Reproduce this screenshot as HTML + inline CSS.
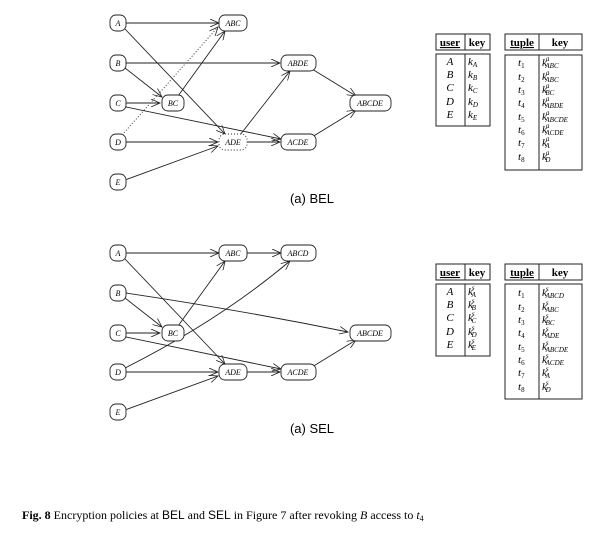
<!DOCTYPE html>
<html><head><meta charset="utf-8"><style>
body{margin:0;background:#fff;width:602px;height:536px;overflow:hidden}
svg{display:block}
text{font-family:"Liberation Serif",serif;}
.n{font-style:italic;font-size:8px;text-anchor:middle}
.t{font-size:11px;text-anchor:middle}
.s{font-style:italic;font-size:6px}
</style></head><body>
<svg width="602" height="536" viewBox="0 0 602 536" xmlns="http://www.w3.org/2000/svg">
<defs>
<marker id="a" markerWidth="10" markerHeight="8" refX="9" refY="4" orient="auto" markerUnits="userSpaceOnUse">
<path d="M0,0 L9,4 L0,8" fill="none" stroke="#222" stroke-width="0.8"/></marker>
</defs>
<g stroke="#222" stroke-width="0.9" fill="none">
<!-- TOP edges -->
<line x1="126" y1="23" x2="219" y2="23" marker-end="url(#a)"/>
<line x1="125" y1="29" x2="225" y2="134" marker-end="url(#a)"/>
<line x1="126" y1="63" x2="280" y2="63" marker-end="url(#a)"/>
<line x1="125" y1="68" x2="162" y2="97" marker-end="url(#a)"/>
<line x1="126" y1="103" x2="160" y2="103" marker-end="url(#a)"/>
<line x1="126" y1="107" x2="281" y2="139" marker-end="url(#a)"/>
<line x1="126" y1="142" x2="218" y2="142" marker-end="url(#a)"/>
<line x1="125" y1="180" x2="218" y2="146" marker-end="url(#a)"/>
<line x1="178" y1="96" x2="225" y2="31" marker-end="url(#a)"/>
<line x1="122" y1="135" x2="218" y2="27" stroke-dasharray="1,2" marker-end="url(#a)"/>
<line x1="245" y1="142" x2="280" y2="142" marker-end="url(#a)"/>
<line x1="240" y1="135" x2="290" y2="71" marker-end="url(#a)"/>
<line x1="312" y1="69" x2="356" y2="96" marker-end="url(#a)"/>
<line x1="312" y1="137" x2="356" y2="110" marker-end="url(#a)"/>
<!-- BOTTOM edges -->
<line x1="126" y1="253" x2="219" y2="253" marker-end="url(#a)"/>
<line x1="125" y1="259" x2="225" y2="364" marker-end="url(#a)"/>
<path d="M126,293 Q240,310 348,332" marker-end="url(#a)"/>
<line x1="125" y1="298" x2="162" y2="327" marker-end="url(#a)"/>
<line x1="126" y1="333" x2="160" y2="333" marker-end="url(#a)"/>
<line x1="126" y1="337" x2="281" y2="369" marker-end="url(#a)"/>
<line x1="126" y1="372" x2="218" y2="372" marker-end="url(#a)"/>
<path d="M125,368 Q220,320 290,261" marker-end="url(#a)"/>
<line x1="125" y1="410" x2="218" y2="376" marker-end="url(#a)"/>
<line x1="178" y1="326" x2="225" y2="261" marker-end="url(#a)"/>
<line x1="247" y1="253" x2="281" y2="253" marker-end="url(#a)"/>
<line x1="247" y1="372" x2="280" y2="372" marker-end="url(#a)"/>
<line x1="312" y1="367" x2="356" y2="340" marker-end="url(#a)"/>
</g>
<g stroke="#222" stroke-width="0.9" fill="#fff">
<!-- top nodes -->
<rect x="110" y="15" width="16" height="16" rx="6"/>
<rect x="110" y="55" width="16" height="16" rx="6"/>
<rect x="110" y="95" width="16" height="16" rx="6"/>
<rect x="110" y="134" width="16" height="16" rx="6"/>
<rect x="110" y="174" width="16" height="16" rx="6"/>
<rect x="162" y="95" width="22" height="16" rx="6"/>
<rect x="219" y="15" width="28" height="16" rx="6"/>
<rect x="219" y="134" width="28" height="16" rx="6" stroke-dasharray="1,2"/>
<rect x="281" y="55" width="35" height="16" rx="6"/>
<rect x="281" y="134" width="35" height="16" rx="6"/>
<rect x="350" y="95" width="41" height="16" rx="6"/>
<!-- bottom nodes -->
<rect x="110" y="245" width="16" height="16" rx="6"/>
<rect x="110" y="285" width="16" height="16" rx="6"/>
<rect x="110" y="325" width="16" height="16" rx="6"/>
<rect x="110" y="364" width="16" height="16" rx="6"/>
<rect x="110" y="404" width="16" height="16" rx="6"/>
<rect x="162" y="325" width="22" height="16" rx="6"/>
<rect x="219" y="245" width="28" height="16" rx="6"/>
<rect x="281" y="245" width="35" height="16" rx="6"/>
<rect x="219" y="364" width="28" height="16" rx="6"/>
<rect x="281" y="364" width="35" height="16" rx="6"/>
<rect x="350" y="325" width="41" height="16" rx="6"/>
</g>
<g class="n">
<text x="118" y="26" class="n">A</text><text x="118" y="66" class="n">B</text><text x="118" y="106" class="n">C</text><text x="118" y="145" class="n">D</text><text x="118" y="185" class="n">E</text>
<text x="173" y="106" class="n">BC</text><text x="233" y="26" class="n">ABC</text><text x="233" y="145" class="n">ADE</text>
<text x="298" y="66" class="n">ABDE</text><text x="298" y="145" class="n">ACDE</text><text x="370" y="106" class="n">ABCDE</text>
<text x="118" y="256" class="n">A</text><text x="118" y="296" class="n">B</text><text x="118" y="336" class="n">C</text><text x="118" y="375" class="n">D</text><text x="118" y="415" class="n">E</text>
<text x="173" y="336" class="n">BC</text><text x="233" y="256" class="n">ABC</text><text x="298" y="256" class="n">ABCD</text>
<text x="233" y="375" class="n">ADE</text><text x="298" y="375" class="n">ACDE</text><text x="370" y="336" class="n">ABCDE</text>
</g>
<text x="312" y="203" style="font-family:'Liberation Sans',sans-serif;font-size:13px" text-anchor="middle">(a) BEL</text>
<text x="312" y="433" style="font-family:'Liberation Sans',sans-serif;font-size:13px" text-anchor="middle">(a) SEL</text>
<text x="22" y="519" style="font-size:12px"><tspan font-weight="bold">Fig. 8</tspan>  Encryption policies at <tspan style="font-family:'Liberation Sans',sans-serif">BEL</tspan> and <tspan style="font-family:'Liberation Sans',sans-serif">SEL</tspan> in Figure 7 after revoking <tspan font-style="italic">B</tspan> access to <tspan font-style="italic">t</tspan><tspan font-size="8" dy="2">4</tspan></text>

<!-- Tables -->
<g stroke="#222" stroke-width="1" fill="none">
<rect x="436" y="34" width="54" height="16"/><line x1="465" y1="34" x2="465" y2="50"/>
<rect x="436" y="54" width="54" height="72"/><line x1="465" y1="54" x2="465" y2="126"/>
<rect x="505" y="34" width="77" height="16"/><line x1="539" y1="34" x2="539" y2="50"/>
<rect x="505" y="55" width="77" height="115"/><line x1="539" y1="55" x2="539" y2="170"/>
<rect x="436" y="264" width="54" height="16"/><line x1="465" y1="264" x2="465" y2="280"/>
<rect x="436" y="284" width="54" height="72"/><line x1="465" y1="284" x2="465" y2="356"/>
<rect x="505" y="264" width="77" height="16"/><line x1="539" y1="264" x2="539" y2="280"/>
<rect x="505" y="284" width="77" height="115"/><line x1="539" y1="284" x2="539" y2="399"/>
</g>
<g font-weight="bold" font-size="11">
<text x="450" y="46" text-anchor="middle" text-decoration="underline">user</text><text x="477" y="46" text-anchor="middle">key</text>
<text x="522" y="46" text-anchor="middle" text-decoration="underline">tuple</text><text x="560" y="46" text-anchor="middle">key</text>
<text x="450" y="276" text-anchor="middle" text-decoration="underline">user</text><text x="477" y="276" text-anchor="middle">key</text>
<text x="522" y="276" text-anchor="middle" text-decoration="underline">tuple</text><text x="560" y="276" text-anchor="middle">key</text>
</g>
<g font-style="italic" font-size="11">
<text x="450" y="65" text-anchor="middle">A</text><text x="450" y="78" text-anchor="middle">B</text><text x="450" y="91" text-anchor="middle">C</text><text x="450" y="105" text-anchor="middle">D</text><text x="450" y="118" text-anchor="middle">E</text>
<text x="468" y="65">k<tspan font-size="7" dy="2">A</tspan></text><text x="468" y="78">k<tspan font-size="7" dy="2">B</tspan></text><text x="468" y="91">k<tspan font-size="7" dy="2">C</tspan></text><text x="468" y="105">k<tspan font-size="7" dy="2">D</tspan></text><text x="468" y="118">k<tspan font-size="7" dy="2">E</tspan></text>
<text x="450" y="295" text-anchor="middle">A</text><text x="450" y="308" text-anchor="middle">B</text><text x="450" y="321" text-anchor="middle">C</text><text x="450" y="335" text-anchor="middle">D</text><text x="450" y="348" text-anchor="middle">E</text>
<text x="468" y="295">k<tspan font-size="7" dx="-1" dy="-5">s</tspan><tspan font-size="7" dx="-3" dy="7">A</tspan></text>
<text x="468" y="308">k<tspan font-size="7" dx="-1" dy="-5">s</tspan><tspan font-size="7" dx="-3" dy="7">B</tspan></text>
<text x="468" y="321">k<tspan font-size="7" dx="-1" dy="-5">s</tspan><tspan font-size="7" dx="-3" dy="7">C</tspan></text>
<text x="468" y="335">k<tspan font-size="7" dx="-1" dy="-5">s</tspan><tspan font-size="7" dx="-3" dy="7">D</tspan></text>
<text x="468" y="348">k<tspan font-size="7" dx="-1" dy="-5">s</tspan><tspan font-size="7" dx="-3" dy="7">E</tspan></text>
</g>
<g font-style="italic" font-size="11">
<text x="518" y="66">t<tspan font-size="7" dy="2" font-style="normal">1</tspan></text>
<text x="518" y="80">t<tspan font-size="7" dy="2" font-style="normal">2</tspan></text>
<text x="518" y="93">t<tspan font-size="7" dy="2" font-style="normal">3</tspan></text>
<text x="518" y="106">t<tspan font-size="7" dy="2" font-style="normal">4</tspan></text>
<text x="518" y="120">t<tspan font-size="7" dy="2" font-style="normal">5</tspan></text>
<text x="518" y="133">t<tspan font-size="7" dy="2" font-style="normal">6</tspan></text>
<text x="518" y="146">t<tspan font-size="7" dy="2" font-style="normal">7</tspan></text>
<text x="518" y="160">t<tspan font-size="7" dy="2" font-style="normal">8</tspan></text>
<text x="542" y="66">k<tspan font-size="7" dx="-1" dy="-5">a</tspan><tspan font-size="7" dx="-4" dy="7">ABC</tspan></text>
<text x="542" y="80">k<tspan font-size="7" dx="-1" dy="-5">a</tspan><tspan font-size="7" dx="-4" dy="7">ABC</tspan></text>
<text x="542" y="93">k<tspan font-size="7" dx="-1" dy="-5">a</tspan><tspan font-size="7" dx="-4" dy="7">BC</tspan></text>
<text x="542" y="106">k<tspan font-size="7" dx="-1" dy="-5">a</tspan><tspan font-size="7" dx="-4" dy="7">ABDE</tspan></text>
<text x="542" y="120">k<tspan font-size="7" dx="-1" dy="-5">a</tspan><tspan font-size="7" dx="-4" dy="7">ABCDE</tspan></text>
<text x="542" y="133">k<tspan font-size="7" dx="-1" dy="-5">a</tspan><tspan font-size="7" dx="-4" dy="7">ACDE</tspan></text>
<text x="542" y="146">k<tspan font-size="7" dx="-1" dy="-5">a</tspan><tspan font-size="7" dx="-4" dy="7">A</tspan></text>
<text x="542" y="160">k<tspan font-size="7" dx="-1" dy="-5">a</tspan><tspan font-size="7" dx="-4" dy="7">D</tspan></text>

<text x="518" y="296">t<tspan font-size="7" dy="2" font-style="normal">1</tspan></text>
<text x="518" y="310">t<tspan font-size="7" dy="2" font-style="normal">2</tspan></text>
<text x="518" y="323">t<tspan font-size="7" dy="2" font-style="normal">3</tspan></text>
<text x="518" y="336">t<tspan font-size="7" dy="2" font-style="normal">4</tspan></text>
<text x="518" y="350">t<tspan font-size="7" dy="2" font-style="normal">5</tspan></text>
<text x="518" y="363">t<tspan font-size="7" dy="2" font-style="normal">6</tspan></text>
<text x="518" y="376">t<tspan font-size="7" dy="2" font-style="normal">7</tspan></text>
<text x="518" y="390">t<tspan font-size="7" dy="2" font-style="normal">8</tspan></text>
<text x="542" y="296">k<tspan font-size="7" dx="-1" dy="-5">s</tspan><tspan font-size="7" dx="-3" dy="7">ABCD</tspan></text>
<text x="542" y="310">k<tspan font-size="7" dx="-1" dy="-5">s</tspan><tspan font-size="7" dx="-3" dy="7">ABC</tspan></text>
<text x="542" y="323">k<tspan font-size="7" dx="-1" dy="-5">s</tspan><tspan font-size="7" dx="-3" dy="7">BC</tspan></text>
<text x="542" y="336">k<tspan font-size="7" dx="-1" dy="-5">s</tspan><tspan font-size="7" dx="-3" dy="7">ADE</tspan></text>
<text x="542" y="350">k<tspan font-size="7" dx="-1" dy="-5">s</tspan><tspan font-size="7" dx="-3" dy="7">ABCDE</tspan></text>
<text x="542" y="363">k<tspan font-size="7" dx="-1" dy="-5">s</tspan><tspan font-size="7" dx="-3" dy="7">ACDE</tspan></text>
<text x="542" y="376">k<tspan font-size="7" dx="-1" dy="-5">s</tspan><tspan font-size="7" dx="-3" dy="7">A</tspan></text>
<text x="542" y="390">k<tspan font-size="7" dx="-1" dy="-5">s</tspan><tspan font-size="7" dx="-3" dy="7">D</tspan></text>
</g>
</svg>
</body></html>
